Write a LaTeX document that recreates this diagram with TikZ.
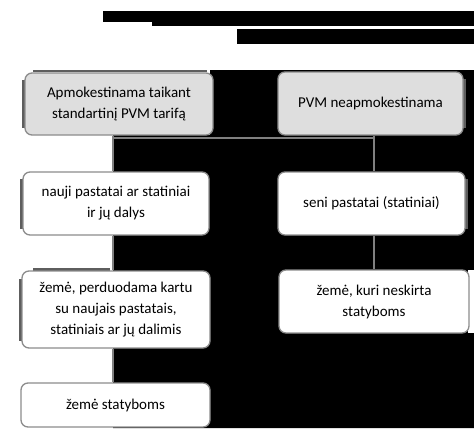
\documentclass[tikz,border=0pt]{standalone}
\usepackage{fontspec}
\setmainfont{Carlito}
\definecolor{boxgray}{HTML}{DEDEDE}
\definecolor{edgegray}{HTML}{8C8C8C}
\definecolor{shadegray}{HTML}{5E5E5E}
\definecolor{linegray}{HTML}{808080}
\begin{document}
\begin{tikzpicture}[x=1pt,y=-1pt,
  every node/.style={font=\fontsize{15}{21}\selectfont, align=center, inner sep=0pt},
  box/.style={draw=edgegray, line width=1.3pt, rounded corners=7pt, fill=white, minimum width=#1},
  graybox/.style={box=#1, fill=boxgray},
  conn/.style={draw=linegray, line width=2.6pt},
  shade/.style={draw=shadegray, line width=2.6pt}]
\useasboundingbox (0,0) rectangle (474,434);
\fill[white] (0,0) rectangle (474,434);
% title bars (text hidden)
\fill[black] (103,11) rectangle (152,22);
\fill[black] (152,11) rectangle (474,26);
\fill[black] (237,29) rectangle (474,44);
% dark backdrop
\fill[black] (210,70) -- (474,70) -- (474,428) -- (113,428) -- (113,135) -- (210,135) -- cycle;
\fill[white] (468,270) rectangle (474,333);
% shade strips
\draw[shade] (33,71) -- (207,71);
\draw[shade] (23.5,80) -- (23.5,128);
\draw[shade] (21.5,179) -- (21.5,229);
\draw[shade] (33,269.5) -- (110,269.5);
\draw[shade] (20.5,279) -- (20.5,341);
\draw[shade] (464.5,79) -- (464.5,128);
\draw[shade] (466.5,179) -- (466.5,229);
% connectors
\coordinate (jl) at (113,138);
\coordinate (jr) at (374,138);
\node[graybox=188pt, minimum height=62pt] (a) at (119,104) {Apmokestinama taikant\\standartinį PVM tarifą};
\node[graybox=185pt, minimum height=63pt] (b) at (370.5,103.5) {PVM neapmokestinama};
\node[box=186pt, minimum height=63pt] (c) at (116,203.5) {nauji pastatai ar statiniai\\ir jų dalys};
\node[box=187pt, minimum height=63pt] (d) at (371.5,203.5) {seni pastatai (statiniai)};
\node[box=188pt, minimum height=77pt] (e) at (116,309.5) {žemė, perduodama kartu\\su naujais pastatais,\\statiniais ar jų dalimis};
\node[box=190pt, minimum height=63pt] (f) at (374,301.5) {žemė, kuri neskirta\\statyboms};
\node[box=189pt, minimum height=44pt] (g) at (115.5,405) {žemė statyboms};
\begin{scope}[on background layer/.style={}]
\end{scope}
\draw[conn] (jl) -- (jr);
\draw[conn] (a.south -| jl) -- (c.north -| jl);
\draw[conn] (c.south -| jl) -- (e.north -| jl);
\draw[conn] (e.south -| jl) -- (g.north -| jl);
\draw[conn] (b.south -| jr) -- (d.north -| jr);
\draw[conn] (d.south -| jr) -- (f.north -| jr);
\end{tikzpicture}
\end{document}
